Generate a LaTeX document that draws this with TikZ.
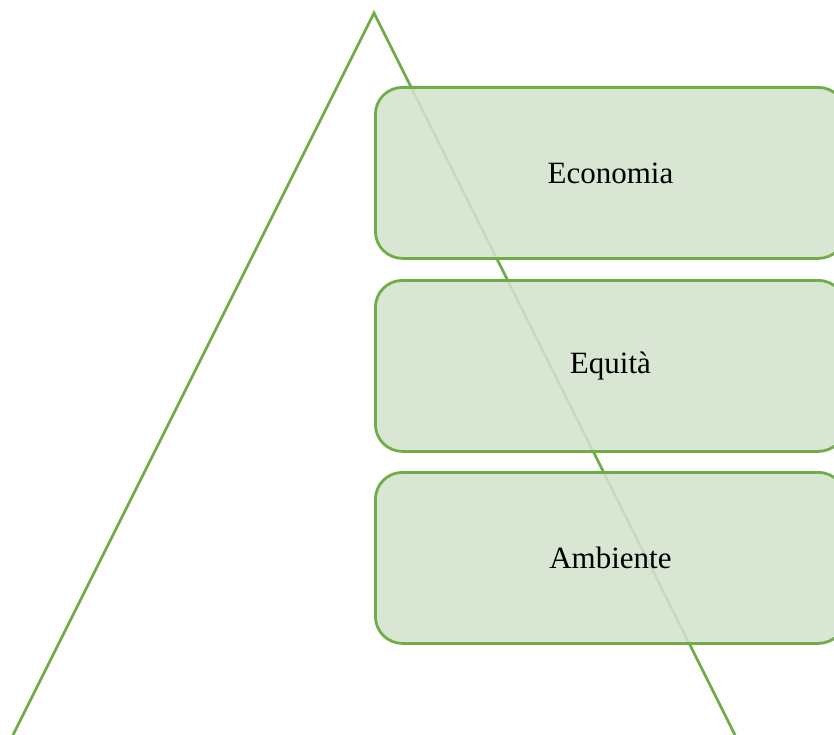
\documentclass[tikz,border=0pt]{standalone}
\usepackage{fontspec}
\setmainfont{Liberation Serif}
\definecolor{offgreen}{RGB}{112,173,71}
\definecolor{boxfill}{RGB}{213,227,206}
\begin{document}
\begin{tikzpicture}[x=1pt,y=-1pt,
  tri/.style={draw=offgreen,line width=2.8pt},
  gbox/.style={draw=offgreen,line width=2.8pt,fill=boxfill,fill opacity=0.88,text opacity=1,rounded corners=27pt,minimum width=470pt,minimum height=171pt,inner sep=0pt,anchor=north west,font=\fontsize{31}{36}\selectfont}]
\useasboundingbox (0,0) rectangle (834,735);
\coordinate (apex) at (374,13);
\coordinate (bl) at (13,735);
\coordinate (br) at (735,735);
\draw[tri] (bl) -- (apex) -- (br);
\node[gbox] (eco) at (374,86) {Economia};
\node[gbox] (equ) at (374,279) {Equità};
\node[gbox] (amb) at (374,471) {Ambiente};
\end{tikzpicture}
\end{document}
